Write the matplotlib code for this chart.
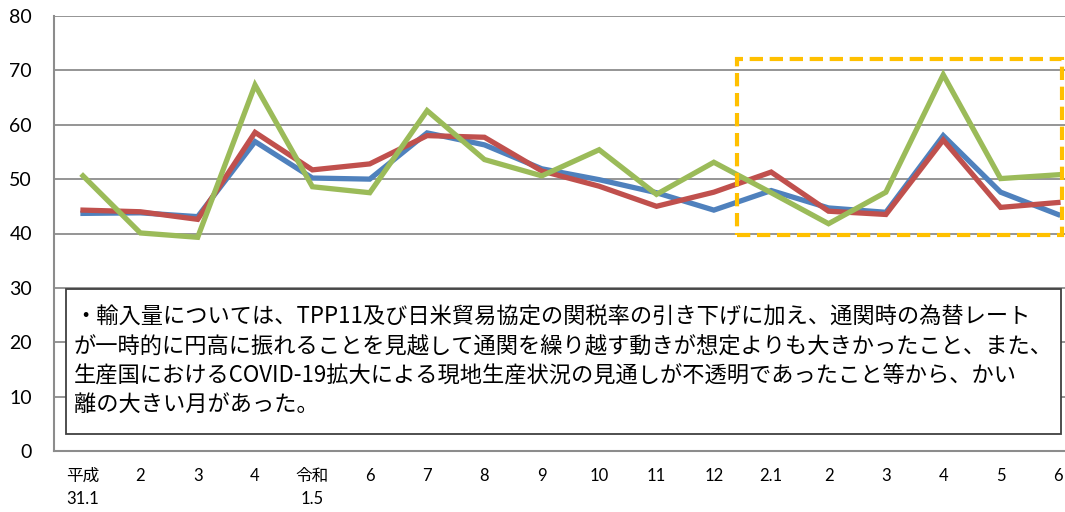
import matplotlib
matplotlib.use("Agg")
import matplotlib.pyplot as plt
from matplotlib.patches import Rectangle

plt.rcParams['font.family'] = ['Lato', 'Noto Sans CJK JP', 'DejaVu Sans']

categories = ['平成\n31.1', '2', '3', '4', '令和\n1.5', '6', '7', '8', '9', '10', '11', '12',
              '2.1', '2', '3', '4', '5', '6']
blue = [43.7, 43.8, 43.1, 56.9, 50.2, 50.0, 58.5, 56.3, 51.9, 49.9, 47.5, 44.3,
        47.9, 44.7, 43.9, 58.0, 47.6, 43.5]
red = [44.3, 44.0, 42.6, 58.6, 51.7, 52.8, 58.0, 57.7, 51.5, 48.7, 45.0, 47.6,
       51.3, 44.1, 43.5, 57.2, 44.8, 45.7]
green = [50.6, 40.1, 39.3, 67.3, 48.6, 47.5, 62.6, 53.6, 50.6, 55.4, 47.2, 53.1,
         47.5, 41.8, 47.6, 69.2, 50.1, 50.8]
yticks = [0, 10, 20, 30, 40, 50, 60, 70, 80]
note_lines = [
    '・輸入量については、TPP11及び日米貿易協定の関税率の引き下げに加え、通関時の為替レート',
    'が一時的に円高に振れることを見越して通関を繰り越す動きが想定よりも大きかったこと、また、',
    '生産国におけるCOVID-19拡大による現地生産状況の見通しが不透明であったこと等から、かい',
    '離の大きい月があった。',
]

W, H = 1065, 512
fig = plt.figure(figsize=(W / 100, H / 100), dpi=100)
step = 57.35
left_px = 83 - step / 2
ax = fig.add_axes([left_px / W, (H - 451) / H, 18 * step / W, (451 - 16) / H])

x = list(range(len(categories)))
ax.plot(x, blue, color='#4F81BD', lw=3.8, solid_joinstyle='miter', zorder=3)
ax.plot(x, red, color='#C0504D', lw=3.8, solid_joinstyle='miter', zorder=4)
ax.plot(x, green, color='#9BBB59', lw=3.8, solid_joinstyle='miter', zorder=5)

ax.set_xlim(-0.5, len(categories) - 0.5)
ax.set_ylim(0, 80)
ax.set_yticks(yticks)
ax.set_xticks(x)
ax.set_xticklabels(categories, fontsize=12, linespacing=1.6, va='top')
ax.tick_params(axis='x', length=0, pad=12)
ax.tick_params(axis='y', length=0, pad=16, labelsize=14)
ax.grid(axis='y', color='#8C8C8C', lw=1.3, zorder=1)
ax.set_axisbelow(True)
for s in ['top', 'right']:
    ax.spines[s].set_visible(False)
for s in ['left', 'bottom']:
    ax.spines[s].set_color('#8C8C8C')
    ax.spines[s].set_linewidth(1.5)

# dashed highlight box
x0 = (737 - 83) / step
x1 = (1062 - 83) / step
y0 = (452 - 235.7) / 5.45
y1 = (452 - 59.3) / 5.45
ax.add_patch(Rectangle((x0, y0), x1 - x0, y1 - y0, fill=False, ec='#FFC000',
                       lw=3.0, ls=(0, (3.2, 1.6)), zorder=6, clip_on=False))

# note box
fig.add_artist(Rectangle((66 / W, (H - 434) / H), (1061 - 66) / W, (434 - 289) / H,
                         transform=fig.transFigure, fc='white', ec='#404040', lw=1.3,
                         zorder=7))
for i, line in enumerate(note_lines):
    fig.text(74 / W, (H - (317 + 29.5 * i)) / H, line, fontsize=16,
             family=['Noto Sans CJK JP', 'DejaVu Sans'], ha='left', va='center',
             color='black', zorder=8)

fig.savefig('out.png', dpi=100)
